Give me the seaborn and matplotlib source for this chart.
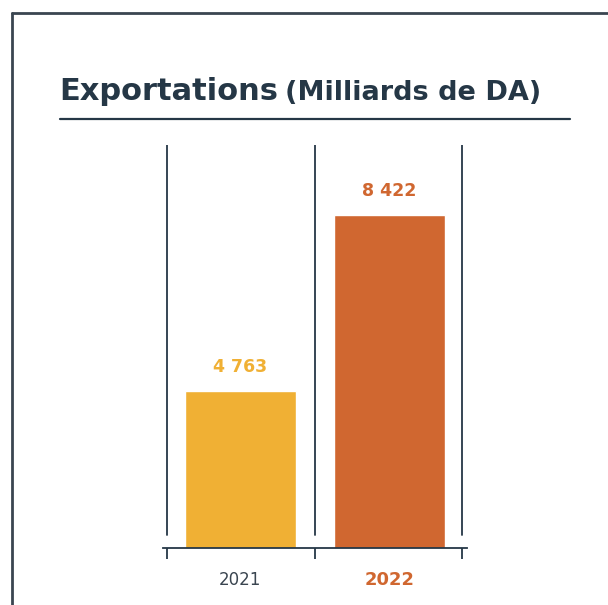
import matplotlib
matplotlib.use("Agg")
import matplotlib.pyplot as plt
from matplotlib.lines import Line2D
import seaborn as sns
import pandas as pd

years = ["2021", "2022"]
exports = [4763, 8422]
value_labels = ["4 763", "8 422"]
bar_colors = ["#F0B034", "#D06730"]

navy = "#253746"

sns.set_theme(style="white")
plt.rcParams["font.family"] = ["DejaVu Sans"]

df = pd.DataFrame({"year": years, "value": exports})

fig = plt.figure(figsize=(6.08, 6.05), dpi=100)
ax = fig.add_axes([0.268, 0.094, 0.5, 0.666])

sns.barplot(data=df, x="year", y="value", hue="year", palette=bar_colors,
            width=0.75, saturation=1, legend=False, ax=ax)

ax.set_ylim(1500, 9880)
ax.set_xlim(-0.52, 1.52)

# category separators
for xpos in [-0.49, 0.5, 1.49]:
    ax.axvline(xpos, ymin=0.033, ymax=1, color=navy, lw=1.3)

for i, (v, lab) in enumerate(zip(exports, value_labels)):
    ax.text(i, v + 320, lab, ha="center", va="bottom", fontsize=12.5,
            fontweight="bold", color=bar_colors[i])

for s in ["top", "right", "left"]:
    ax.spines[s].set_visible(False)
ax.spines["bottom"].set_color(navy)
ax.spines["bottom"].set_linewidth(1.3)
ax.set_yticks([])
ax.set_xticks([-0.49, 0.5, 1.49])
ax.set_xticklabels([])
ax.tick_params(axis="x", bottom=True, length=8, width=1.3, color=navy)
ax.set_xlabel("")
ax.set_ylabel("")

# category labels
trans = ax.get_xaxis_transform()
ax.text(0, -0.078, years[0], transform=trans, ha="center", va="center",
        fontsize=12, color="#3a4550")
ax.text(1, -0.078, years[1], transform=trans, ha="center", va="center",
        fontsize=13, fontweight="bold", color=bar_colors[1])

# title
fig.text(0.098, 0.834, "Exportations", fontsize=22, fontweight="bold",
         color=navy, ha="left", va="baseline")
fig.text(0.469, 0.834, "(Milliards de DA)", fontsize=19.5, fontweight="bold",
         color=navy, ha="left", va="baseline")
fig.add_artist(Line2D([0.098, 0.938], [0.803, 0.803], color=navy, lw=1.6,
                      transform=fig.transFigure))

# frame
fig.add_artist(Line2D([0.02, 0.02], [0.0, 0.979], color="#3a4550", lw=2,
                      transform=fig.transFigure))
fig.add_artist(Line2D([0.02, 1.0], [0.979, 0.979], color="#3a4550", lw=2,
                      transform=fig.transFigure))

fig.savefig("out.png", dpi=100)
